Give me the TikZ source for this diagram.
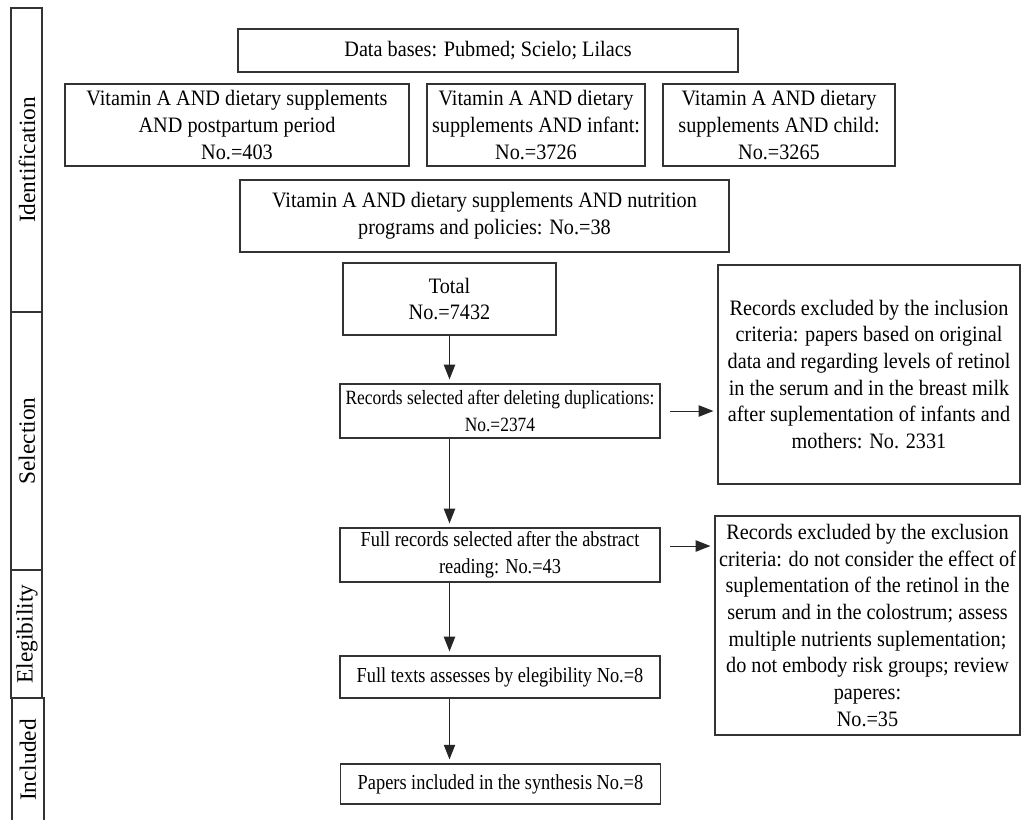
\documentclass[tikz,border=0pt]{standalone}
\usepackage{fontspec}
\setmainfont[FakeStretch=0.92]{Liberation Serif}
\newfontfamily\narrowfont[FakeStretch=0.86]{Liberation Serif}
\newfontfamily\labfont{Liberation Serif}
\usetikzlibrary{arrows.meta}
\begin{document}
\begin{tikzpicture}[x=0.75pt,y=-0.75pt,
  box/.style={draw=black!80, line width=0.9pt, align=center, inner sep=0pt, font=\fontsize{16.5}{20}\selectfont},
  flow/.style={box, font=\narrowfont\fontsize{16}{20}\selectfont},
  lab/.style={rotate=90, font=\labfont\fontsize{17.5}{20}\selectfont},
  arr/.style={draw=black!85, line width=0.75pt, -{Triangle[length=11pt,width=8.5pt]}, shorten >=3pt}]
\useasboundingbox (0,0) rectangle (1024,819);
% side band
\draw[black!80, line width=0.9pt] (11,8) rectangle (42,312);
\draw[black!80, line width=0.9pt] (11,312) rectangle (42,570);
\draw[black!80, line width=0.9pt] (11,570) rectangle (42,698);
\draw[black!80, line width=0.9pt] (44,830) -- (44,698) -- (12,698) -- (12,830);
\node[lab] (lid) at (27,160) {Identification};
\node[lab] (lsel) at (27,441) {Selection};
\node[lab] (lel) at (27,634) {Elegibility};
\node[lab] (linc) at (28,760) {Included};
% boxes
\node[box, minimum width=375pt, minimum height=32.25pt] (db) at (488,50.5) {Data bases: Pubmed; Scielo; Lilacs};
\node[box, minimum width=258pt, minimum height=61.5pt] (b1) at (237,125) {Vitamin A AND dietary supplements\\AND postpartum period\\No.=403};
\node[box, minimum width=163.5pt, minimum height=61.5pt] (b2) at (536,125) {Vitamin A AND dietary\\supplements AND infant:\\No.=3726};
\node[box, minimum width=174pt, minimum height=61.5pt] (b3) at (779,125) {Vitamin A AND dietary\\supplements AND child:\\No.=3265};
\node[box, minimum width=366.75pt, minimum height=54pt] (nut) at (484.5,216) {Vitamin A AND dietary supplements AND nutrition\\programs and policies: No.=38};
\node[box, minimum width=159.75pt, minimum height=54pt] (tot) at (449.5,299) {Total\\No.=7432};
\node[flow, font=\narrowfont\fontsize{15.2}{20}\selectfont, minimum width=240pt, minimum height=40.5pt] (rec) at (500,411) {Records selected after deleting duplications:\\No.=2374};
\node[box, minimum width=226.5pt, minimum height=164.25pt] (ex1) at (869,374.5) {Records excluded by the inclusion\\criteria: papers based on original\\data and regarding levels of retinol\\in the serum and in the breast milk\\after suplementation of infants and\\mothers: No. 2331};
\node[flow, minimum width=240pt, minimum height=40.5pt] (full) at (500,555) {Full records selected after the abstract\\reading: No.=43};
\node[box, minimum width=228.75pt, minimum height=164.25pt] (ex2) at (867.5,625.5) {Records excluded by the exclusion\\criteria: do not consider the effect of\\suplementation of the retinol in the\\serum and in the colostrum; assess\\multiple nutrients suplementation;\\do not embody risk groups; review\\paperes:\\No.=35};
\node[flow, minimum width=240pt, minimum height=31.5pt] (txt) at (500,677) {Full texts assesses by elegibility No.=8};
\node[flow, minimum width=240pt, minimum height=30pt] (pap) at (500.5,784) {Papers included in the synthesis No.=8};
% arrows
\draw[arr] (tot.south) -- (tot.south |- rec.north);
\draw[arr] (rec.south -| tot.south) -- (tot.south |- full.north);
\draw[arr] (full.south -| tot.south) -- (tot.south |- txt.north);
\draw[arr] (txt.south -| tot.south) -- (tot.south |- pap.north);
\draw[arr, shorten <=7pt] (rec.east) -- (rec.east -| ex1.west);
\draw[arr, shorten <=7pt] ([yshift=6.75pt]full.east) -- ([yshift=6.75pt]full.east -| ex2.west);
\end{tikzpicture}
\end{document}
